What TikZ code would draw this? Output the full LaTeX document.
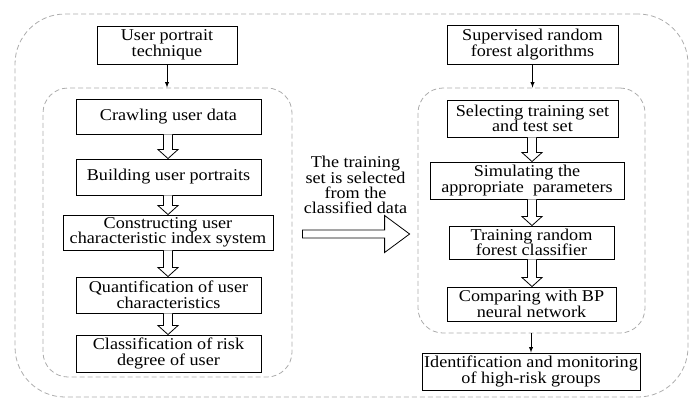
\documentclass[tikz,border=0pt]{standalone}
\usepackage{fontspec}
\setmainfont{Liberation Serif}[FakeStretch=1.1]
\usepackage{tikz}
\usetikzlibrary{arrows,calc}

\tikzset{
	box/.style={rectangle,draw,line width=0.9pt,inner sep=0pt,align=center,font=\fontsize{16.5}{15.5}\selectfont},
	group/.style={rectangle,draw=gray!65,dash pattern=on 5pt off 3pt,line width=0.8pt,rounded corners=25pt},
	hollow/.style={draw,line width=0.8pt,fill=white},
}

% fat open arrow going down between two boxes, at the x of a column
\newcommand{\hollowdown}[3]{%
	\draw[hollow] let \p1=(#1.south -| #3), \p2=(#2.north -| #3) in
		(\x1-4.5pt,\y1) -- (\x1-4.5pt,\y2+9pt) -- (\x1-10pt,\y2+9pt) -- (\x1,\y2)
		-- (\x1+10pt,\y2+9pt) -- (\x1+4.5pt,\y2+9pt) -- (\x1+4.5pt,\y1);}

\begin{document}
\begin{tikzpicture}[x=1pt,y=-1pt]
		\useasboundingbox (0,0) rectangle (691,400);
%		\draw[help lines,step=50] (0,0) grid (691,400);
		\path (168,0) coordinate (left_col);
		\path (532,0) coordinate (right_col);

		% dashed groups
		\path (351.5,205.5) node(outer) [group,rounded corners=50pt,minimum width=673pt,minimum height=383pt] {};
		\path (167.5,232.5) node(left_group) [group,minimum width=249pt,minimum height=289pt] {};
		\path (531.5,210.5) node(right_group) [group,minimum width=227pt,minimum height=245pt] {};

		% left column
		\path (167,45) node(user_portrait) [box,minimum width=140pt,minimum height=38pt] {User portrait\\technique};
		\path (168.5,116.5) node(crawling) [box,minimum width=185pt,minimum height=35pt] {Crawling user data};
		\path (168.5,177) node(building) [box,minimum width=185pt,minimum height=36pt] {Building user portraits};
		\path (168,232.5) node(constructing) [box,minimum width=210pt,minimum height=35pt] {Constructing user\\characteristic index system};
		\path (168.5,295) node(quantification) [box,minimum width=185pt,minimum height=36pt] {Quantification of user\\characteristics};
		\path (168.5,353.5) node(classification) [box,minimum width=185pt,minimum height=37pt] {Classification of risk\\degree of user};

		% right column
		\path (532.5,44.5) node(supervised) [box,minimum width=171pt,minimum height=39pt] {Supervised random\\forest algorithms};
		\path (532.5,118.5) node(selecting) [box,minimum width=171pt,minimum height=37pt] {Selecting training set\\and test set};
		\path (527,180.5) node(simulating) [box,minimum width=194pt,minimum height=37pt] {Simulating the\\appropriate~~parameters};
		\path (531.5,242.5) node(training) [box,minimum width=165pt,minimum height=33pt] {Training random\\forest classifier};
		\path (531.5,304) node(comparing) [box,minimum width=169pt,minimum height=34pt] {Comparing with BP\\neural network};
		\path (531,371.5) node(identification) [box,minimum width=218pt,minimum height=37pt] {Identification and monitoring\\of high-risk groups};

		% middle
		\path (355.5,185) node(selected_text) [align=center,font=\fontsize{16.5}{15}\selectfont] {The training\\set is selected\\from the\\classified data};

		\draw[line width=0.9pt,-latex] (user_portrait) -- (user_portrait |- left_group.north);
		\draw[line width=0.9pt,-latex] (supervised) -- (supervised |- right_group.north);
		\draw[line width=0.9pt,-latex] (right_group.south -| identification) -- (identification);

		\hollowdown{crawling}{building}{left_col}
		\hollowdown{building}{constructing}{left_col}
		\hollowdown{constructing}{quantification}{left_col}
		\hollowdown{quantification}{classification}{left_col}
		\hollowdown{selecting}{simulating}{right_col}
		\hollowdown{simulating}{training}{right_col}
		\hollowdown{training}{comparing}{right_col}

		\draw[hollow] let \p1=(left_group.east), \p2=(right_group.west) in
			(\x1+10pt,\y1+2.5pt) -- (\x2-33pt,\y1+2.5pt) -- (\x2-33pt,\y1+17pt) -- (\x2-8pt,\y1-1.5pt)
			-- (\x2-33pt,\y1-20pt) -- (\x2-33pt,\y1-5.5pt) -- (\x1+10pt,\y1-5.5pt) -- cycle;
	\end{tikzpicture}
\end{document}
